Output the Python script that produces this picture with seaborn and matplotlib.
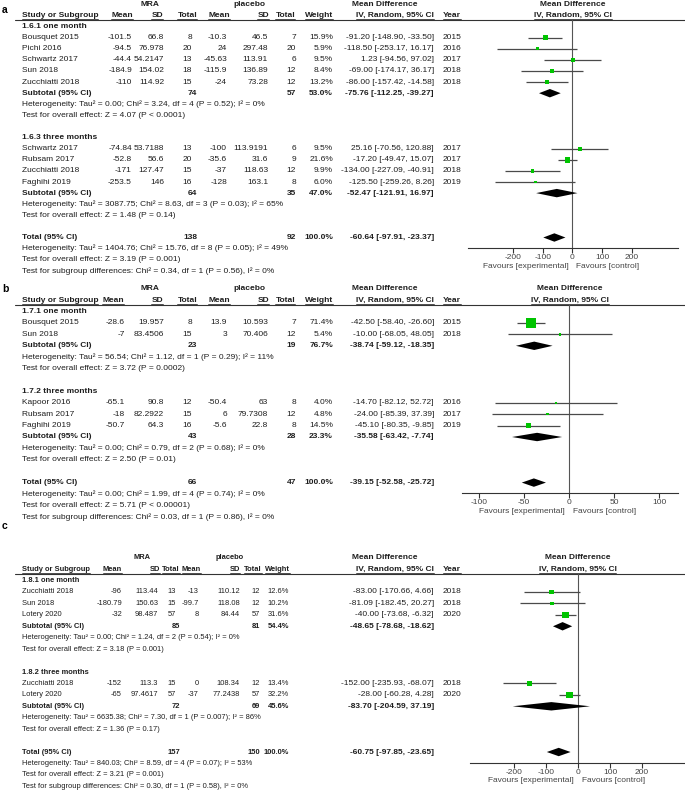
import numpy as np
import pandas as pd
import matplotlib
matplotlib.use("Agg")
import matplotlib.pyplot as plt
import seaborn as sns

sns.set_theme(style="white")
plt.rcParams['font.family'] = ['Liberation Sans', 'DejaVu Sans']
plt.rcParams['axes.unicode_minus'] = False

# ---------------- Panel a data ----------------
a_group = [0, 0, 0, 0, 0, 1, 1, 1, 1]
a_study = ["Bousquet 2015", "Pichi 2016", "Schwartz 2017", "Sun 2018", "Zucchiatti 2018",
           "Schwartz 2017", "Rubsam 2017", "Zucchiatti 2018", "Faghihi 2019"]
a_mra_mean = [-101.5, -94.5, -44.4, -184.9, -110, -74.84, -52.8, -171, -253.5]
a_mra_sd = [66.8, 76.978, 54.2147, 154.02, 114.92, 53.7188, 56.6, 127.47, 146]
a_mra_n = [8, 20, 13, 18, 15, 13, 20, 15, 16]
a_pl_mean = [-10.3, 24, -45.63, -115.9, -24, -100, -35.6, -37, -128]
a_pl_sd = [46.5, 297.48, 113.91, 136.89, 73.28, 113.9191, 31.6, 118.63, 163.1]
a_pl_n = [7, 20, 6, 12, 12, 6, 9, 12, 8]
a_weight = [15.9, 5.9, 9.5, 8.4, 13.2, 9.5, 21.6, 9.9, 6.0]
a_md = [-91.20, -118.50, 1.23, -69.00, -86.00, 25.16, -17.20, -134.00, -125.50]
a_lo = [-148.90, -253.17, -94.56, -174.17, -157.42, -70.56, -49.47, -227.09, -259.26]
a_hi = [-33.50, 16.17, 97.02, 36.17, -14.58, 120.88, 15.07, -40.91, 8.26]
a_year = [2015, 2016, 2017, 2018, 2018, 2017, 2017, 2018, 2019]
a_sub_name = ["1.6.1 one month", "1.6.3 three months"]
a_sub_weight = [53.0, 47.0]
a_sub_md = [-75.76, -52.47]
a_sub_lo = [-112.25, -121.91]
a_sub_hi = [-39.27, 16.97]
a_sub_het = ["Heterogeneity: Tau² = 0.00; Chi² = 3.24, df = 4 (P = 0.52); I² = 0%",
             "Heterogeneity: Tau² = 3087.75; Chi² = 8.63, df = 3 (P = 0.03); I² = 65%"]
a_sub_test = ["Test for overall effect: Z = 4.07 (P < 0.0001)",
              "Test for overall effect: Z = 1.48 (P = 0.14)"]
a_total = [-60.64, -97.91, -23.37]
a_total_het = "Heterogeneity: Tau² = 1404.76; Chi² = 15.76, df = 8 (P = 0.05); I² = 49%"
a_total_test = "Test for overall effect: Z = 3.19 (P = 0.001)"
a_subgroup_test = "Test for subgroup differences: Chi² = 0.34, df = 1 (P = 0.56), I² = 0%"
a_ticks = [-200, -100, 0, 100, 200]

# ---------------- Panel b data ----------------
b_group = [0, 0, 1, 1, 1]
b_study = ["Bousquet 2015", "Sun 2018", "Kapoor 2016", "Rubsam 2017", "Faghihi 2019"]
b_mra_mean = [-28.6, -7, -65.1, -18, -50.7]
b_mra_sd = [19.957, 83.4506, 90.8, 82.2922, 64.3]
b_mra_n = [8, 15, 12, 15, 16]
b_pl_mean = [13.9, 3, -50.4, 6, -5.6]
b_pl_sd = [10.593, 70.406, 63, 79.7308, 22.8]
b_pl_n = [7, 12, 8, 12, 8]
b_weight = [71.4, 5.4, 4.0, 4.8, 14.5]
b_md = [-42.50, -10.00, -14.70, -24.00, -45.10]
b_lo = [-58.40, -68.05, -82.12, -85.39, -80.35]
b_hi = [-26.60, 48.05, 52.72, 37.39, -9.85]
b_year = [2015, 2018, 2016, 2017, 2019]
b_sub_name = ["1.7.1 one month", "1.7.2 three months"]
b_sub_weight = [76.7, 23.3]
b_sub_md = [-38.74, -35.58]
b_sub_lo = [-59.12, -63.42]
b_sub_hi = [-18.35, -7.74]
b_sub_het = ["Heterogeneity: Tau² = 56.54; Chi² = 1.12, df = 1 (P = 0.29); I² = 11%",
             "Heterogeneity: Tau² = 0.00; Chi² = 0.79, df = 2 (P = 0.68); I² = 0%"]
b_sub_test = ["Test for overall effect: Z = 3.72 (P = 0.0002)",
              "Test for overall effect: Z = 2.50 (P = 0.01)"]
b_total = [-39.15, -52.58, -25.72]
b_total_het = "Heterogeneity: Tau² = 0.00; Chi² = 1.99, df = 4 (P = 0.74); I² = 0%"
b_total_test = "Test for overall effect: Z = 5.71 (P < 0.00001)"
b_subgroup_test = "Test for subgroup differences: Chi² = 0.03, df = 1 (P = 0.86), I² = 0%"
b_ticks = [-100, -50, 0, 50, 100]

# ---------------- Panel c data ----------------
c_group = [0, 0, 0, 1, 1]
c_study = ["Zucchiatti 2018", "Sun 2018", "Lotery 2020", "Zucchiatti 2018", "Lotery 2020"]
c_mra_mean = [-96, -180.79, -32, -152, -65]
c_mra_sd = [113.44, 150.63, 98.487, 113.3, 97.4617]
c_mra_n = [13, 15, 57, 15, 57]
c_pl_mean = [-13, -99.7, 8, 0, -37]
c_pl_sd = [110.12, 118.08, 84.44, 108.34, 77.2438]
c_pl_n = [12, 12, 57, 12, 57]
c_weight = [12.6, 10.2, 31.6, 13.4, 32.2]
c_md = [-83.00, -81.09, -40.00, -152.00, -28.00]
c_lo = [-170.66, -182.45, -73.68, -235.93, -60.28]
c_hi = [4.66, 20.27, -6.32, -68.07, 4.28]
c_year = [2018, 2018, 2020, 2018, 2020]
c_sub_name = ["1.8.1 one month", "1.8.2 three months"]
c_sub_weight = [54.4, 45.6]
c_sub_md = [-48.65, -83.70]
c_sub_lo = [-78.68, -204.59]
c_sub_hi = [-18.62, 37.19]
c_sub_het = ["Heterogeneity: Tau² = 0.00; Chi² = 1.24, df = 2 (P = 0.54); I² = 0%",
             "Heterogeneity: Tau² = 6635.38; Chi² = 7.30, df = 1 (P = 0.007); I² = 86%"]
c_sub_test = ["Test for overall effect: Z = 3.18 (P = 0.001)",
              "Test for overall effect: Z = 1.36 (P = 0.17)"]
c_total = [-60.75, -97.85, -23.65]
c_total_het = "Heterogeneity: Tau² = 840.03; Chi² = 8.59, df = 4 (P = 0.07); I² = 53%"
c_total_test = "Test for overall effect: Z = 3.21 (P = 0.001)"
c_subgroup_test = "Test for subgroup differences: Chi² = 0.30, df = 1 (P = 0.58), I² = 0%"
c_ticks = [-200, -100, 0, 100, 200]


def make_panel(prefix):
    g = globals()
    keys = ["group", "study", "mra_mean", "mra_sd", "mra_n", "pl_mean", "pl_sd", "pl_n",
            "weight", "md", "lo", "hi", "year"]
    df = pd.DataFrame({k: g[f"{prefix}_{k}"] for k in keys})
    sub = pd.DataFrame({k: g[f"{prefix}_sub_{k}"] for k in
                        ["name", "weight", "md", "lo", "hi", "het", "test"]})
    extra = dict(total=g[f"{prefix}_total"], total_het=g[f"{prefix}_total_het"],
                 total_test=g[f"{prefix}_total_test"], subgroup_test=g[f"{prefix}_subgroup_test"],
                 ticks=g[f"{prefix}_ticks"])
    return df, sub, extra


def fmt(v):
    v = float(v)
    return str(int(v)) if v.is_integer() else repr(v)


def ci_text(md, lo, hi):
    return f"{md:.2f} [{lo:.2f}, {hi:.2f}]"


W, H = 685, 791
fig = plt.figure(figsize=(W / 100, H / 100), dpi=100)
tax = fig.add_axes([0, 0, 1, 1])
tax.set_xlim(0, W)
tax.set_ylim(H, 0)
tax.axis('off')

TXT = '#1e1e1e'
GRAY = '#444444'
GREEN = '#00c400'
X_STUDY, X_CI, X_YEAR = 22, 434, 443

# column layouts (pixel positions) for the left-hand table of each panel
LAYOUT = {
    'a': dict(fs=6.0, mra=150, pla=249,
              val=[132, 164, 192, 227, 268, 296, 333],
              hdr=[133, 163, 197, 230, 269, 295, 333], nsub=197),
    'b': dict(fs=6.0, mra=150, pla=249,
              val=[125, 164, 192, 227, 268, 296, 333],
              hdr=[124, 163, 197, 230, 269, 295, 333], nsub=197),
    'c': dict(fs=5.4, mra=142, pla=230,
              val=[122, 158, 176, 199, 240, 260, 289],
              hdr=[122, 160, 180, 201, 240, 262, 290], nsub=180),
}
FS_R = 6.0

underline_texts = []


def txt(x, y, s, ha='left', bold=False, color=TXT, size=FS_R):
    return tax.text(x, y, s, ha=ha, va='center', fontsize=size,
                    fontweight='bold' if bold else 'normal', color=color)


def draw_panel(prefix, letter, letter_y, y_h1, sp, fx0, fx1, xlim):
    df, sub, ex = make_panel(prefix)
    L = LAYOUT[prefix]
    fs = L['fs']
    xm1, xs1, xn1, xm2, xs2, xn2, xw = L['val']
    ry = lambda i: y_h1 + i * sp
    fc = (fx0 + fx1) / 2
    txt(2, letter_y, letter, bold=True, size=7.5, color='black')
    # header row 1
    txt(L['mra'], ry(0), 'MRA', 'center', True, size=fs)
    txt(L['pla'], ry(0), 'placebo', 'center', True, size=fs)
    txt(385, ry(0), 'Mean Difference', 'center', True)
    txt(fc, ry(0), 'Mean Difference', 'center', True)
    # header row 2
    hm1, hs1, hn1, hm2, hs2, hn2, hw = L['hdr']
    hdr = [(X_STUDY, 'Study or Subgroup', 'left', fs), (hm1, 'Mean', 'right', fs),
           (hs1, 'SD', 'right', fs), (hn1, 'Total', 'right', fs), (hm2, 'Mean', 'right', fs),
           (hs2, 'SD', 'right', fs), (hn2, 'Total', 'right', fs), (hw, 'Weight', 'right', fs),
           (X_CI, 'IV, Random, 95% CI', 'right', FS_R), (X_YEAR, 'Year', 'left', FS_R),
           (fc, 'IV, Random, 95% CI', 'center', FS_R)]
    for x, s, ha, f in hdr:
        underline_texts.append((txt(x, ry(1), s, ha, True, size=f), ry(1) + 3.6))
    line_y = ry(1) + 4.6
    tax.plot([15, W], [line_y, line_y], color='#333333', lw=0.8)

    i = 2
    study_rows, sub_rows = [], []
    for gi, srow in sub.iterrows():
        txt(X_STUDY, ry(i), srow['name'], bold=True, size=fs)
        i += 1
        part = df[df['group'] == gi]
        for _, r in part.iterrows():
            y = ry(i)
            txt(X_STUDY, y, r['study'], size=fs)
            txt(xm1, y, fmt(r['mra_mean']), 'right', size=fs)
            txt(xs1, y, fmt(r['mra_sd']), 'right', size=fs)
            txt(xn1, y, fmt(r['mra_n']), 'right', size=fs)
            txt(xm2, y, fmt(r['pl_mean']), 'right', size=fs)
            txt(xs2, y, fmt(r['pl_sd']), 'right', size=fs)
            txt(xn2, y, fmt(r['pl_n']), 'right', size=fs)
            txt(xw, y, f"{r['weight']:.1f}%", 'right', size=fs)
            txt(X_CI, y, ci_text(r['md'], r['lo'], r['hi']), 'right')
            txt(X_YEAR, y, str(r['year']))
            study_rows.append(i)
            i += 1
        y = ry(i)
        txt(X_STUDY, y, 'Subtotal (95% CI)', bold=True, size=fs)
        txt(L['nsub'], y, str(int(part['mra_n'].sum())), 'right', True, size=fs)
        txt(xn2, y, str(int(part['pl_n'].sum())), 'right', True, size=fs)
        txt(xw, y, f"{srow['weight']:.1f}%", 'right', True, size=fs)
        txt(X_CI, y, ci_text(srow['md'], srow['lo'], srow['hi']), 'right', True)
        sub_rows.append(i)
        i += 1
        txt(X_STUDY, ry(i), srow['het'], size=fs)
        i += 1
        txt(X_STUDY, ry(i), srow['test'], size=fs)
        i += 2
    total_row = i
    y = ry(i)
    tmd, tlo, thi = ex['total']
    txt(X_STUDY, y, 'Total (95% CI)', bold=True, size=fs)
    txt(L['nsub'], y, str(int(df['mra_n'].sum())), 'right', True, size=fs)
    txt(xn2, y, str(int(df['pl_n'].sum())), 'right', True, size=fs)
    txt(xw, y, "100.0%", 'right', True, size=fs)
    txt(X_CI, y, ci_text(tmd, tlo, thi), 'right', True)
    txt(X_STUDY, ry(i + 1), ex['total_het'], size=fs)
    txt(X_STUDY, ry(i + 2), ex['total_test'], size=fs)
    txt(X_STUDY, ry(i + 3), ex['subgroup_test'], size=fs)

    # ---------- forest plot ----------
    axis_y = ry(total_row) + 10.5
    ax = fig.add_axes([fx0 / W, 1 - axis_y / H, (fx1 - fx0) / W, (axis_y - line_y) / H])
    ax.set_facecolor('none')
    ax.set_xlim(*xlim)
    ax.set_ylim((axis_y - y_h1) / sp, (line_y - y_h1) / sp)
    for s in ['top', 'left', 'right']:
        ax.spines[s].set_visible(False)
    ax.spines['bottom'].set_color('#333333')
    ax.spines['bottom'].set_linewidth(0.8)
    ax.set_yticks([])
    ax.axvline(0, color='#555555', lw=0.8, zorder=1)

    ax.hlines(study_rows, df['lo'], df['hi'], color='#4a4a4a', lw=0.9, zorder=2)
    side_pt = 1.18 * np.sqrt(df['weight'].to_numpy()) * 0.72
    sns.scatterplot(x=df['md'].to_numpy(), y=np.array(study_rows, dtype=float), s=side_pt ** 2,
                    marker='s', color=GREEN, linewidth=0, ax=ax, legend=False, zorder=3)
    hh = 4.2 / sp
    dia = list(zip(sub_rows, sub['md'], sub['lo'], sub['hi'])) + [(total_row, tmd, tlo, thi)]
    for r, md, lo, hi in dia:
        ax.fill([lo, md, hi, md], [r, r - hh, r, r + hh], color='black', lw=0, zorder=4)

    ticks = ex['ticks']
    ax.set_xticks(ticks)
    ax.set_xticklabels([str(t) for t in ticks])
    ax.tick_params(axis='x', direction='out', length=3.5, width=0.8, colors='#333333',
                   labelsize=FS_R, pad=1.0, bottom=True)
    for lab in ax.get_xticklabels():
        lab.set_color(GRAY)
    ax.set_xlabel('')
    ax.set_ylabel('')
    zero_px = fx0 + (0 - xlim[0]) / (xlim[1] - xlim[0]) * (fx1 - fx0)
    txt(zero_px - 4, axis_y + 18, 'Favours [experimental]', 'right', color=GRAY)
    txt(zero_px + 4, axis_y + 18, 'Favours [control]', 'left', color=GRAY)


draw_panel('a', 'a', 10, 4.4, 11.1, 468, 678, (-351, 355))
draw_panel('b', 'b', 289, 288.8, 11.4, 462, 678, (-119, 121))
draw_panel('c', 'c', 526, 557.7, 11.43, 470, 685, (-338, 334))

# underline header texts
fig.canvas.draw()
renderer = fig.canvas.get_renderer()
for t, uy in underline_texts:
    bb = t.get_window_extent(renderer=renderer)
    tax.plot([bb.x0, bb.x1], [uy, uy], color='#333333', lw=0.6)

fig.savefig('out.png', dpi=100)
